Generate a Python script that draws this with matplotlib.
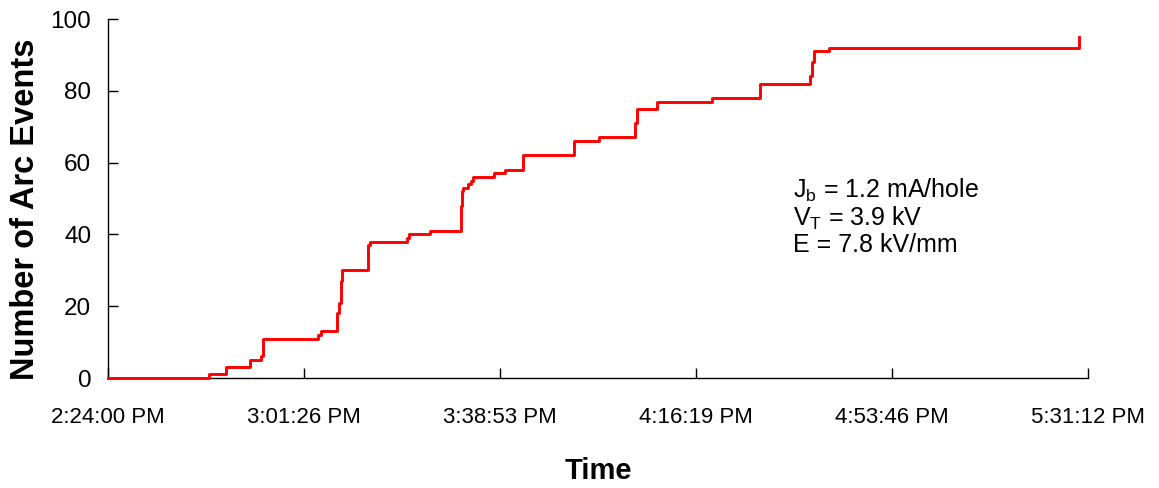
import pandas as pd
import matplotlib
matplotlib.use("Agg")
import matplotlib.pyplot as plt
import matplotlib.dates as mdates

plt.rcParams["font.family"] = ["Liberation Sans", "DejaVu Sans"]
plt.rcParams["mathtext.fontset"] = "custom"
plt.rcParams["mathtext.rm"] = "Liberation Sans"
plt.rcParams["mathtext.it"] = "Liberation Sans"

# arc event log (clock time, cumulative count)
event_times = ["2:24:00 PM", "2:43:17 PM", "2:46:32 PM", "2:51:07 PM", "2:53:14 PM",
               "2:53:31 PM", "3:04:07 PM", "3:04:41 PM", "3:07:45 PM", "3:08:13 PM",
               "3:08:25 PM", "3:08:42 PM", "3:13:37 PM", "3:14:03 PM", "3:21:10 PM",
               "3:21:33 PM", "3:25:31 PM", "3:31:22 PM", "3:31:34 PM", "3:31:52 PM",
               "3:32:43 PM", "3:33:17 PM", "3:33:40 PM", "3:37:47 PM", "3:39:50 PM",
               "3:43:20 PM", "3:53:01 PM", "3:57:47 PM", "4:04:40 PM", "4:04:59 PM",
               "4:08:49 PM", "4:19:19 PM", "4:28:33 PM", "4:38:06 PM", "4:38:25 PM",
               "4:38:55 PM", "4:41:47 PM", "5:29:29 PM", "5:29:29 PM"]
event_counts = [0, 1, 3, 5, 6,
                11, 12, 13, 18, 21,
                27, 30, 37, 38, 39,
                40, 41, 48, 52, 53,
                54, 55, 56, 57, 58,
                62, 66, 67, 71, 75,
                77, 78, 82, 84, 88,
                91, 92, 92, 95]

tick_labels = ["2:24:00 PM", "3:01:26 PM", "3:38:53 PM", "4:16:19 PM", "4:53:46 PM", "5:31:12 PM"]
y_ticks = [0, 20, 40, 60, 80, 100]

fmt = "%I:%M:%S %p"
t = pd.to_datetime(event_times, format=fmt)
ticks = pd.to_datetime(tick_labels, format=fmt)

fig = plt.figure(figsize=(11.59, 4.88), dpi=100)
ax = fig.add_axes([0.0932, 0.2254, 0.8455, 0.7356])

ax.plot(mdates.date2num(t), event_counts, color="#ff0000", lw=2.1, drawstyle="steps-post",
        clip_on=False, zorder=3)

ax.set_xlim(mdates.date2num(ticks[0]), mdates.date2num(ticks[-1]))
ax.set_ylim(0, 100)
ax.set_xticks(mdates.date2num(ticks))
ax.set_xticklabels(tick_labels)
ax.set_yticks(y_ticks)

for s in ["top", "right"]:
    ax.spines[s].set_visible(False)
for s in ["left", "bottom"]:
    ax.spines[s].set_linewidth(1.0)

ax.tick_params(axis="x", direction="in", length=7, width=1, labelsize=16, pad=21)
ax.tick_params(axis="y", direction="in", length=7, width=1, labelsize=17.5, pad=12)

ax.set_xlabel("Time", fontsize=21, fontweight="bold", labelpad=21)
ax.set_ylabel("Number of Arc Events", fontsize=23.5, fontweight="bold")
ax.yaxis.set_label_coords(-0.068, 0.47)

ax.text(0.699, 0.56,
        "J$_\\mathrm{b}$ = 1.2 mA/hole\nV$_\\mathrm{T}$ = 3.9 kV\nE = 7.8 kV/mm",
        transform=ax.transAxes, fontsize=18, va="top", ha="left", linespacing=1.05)

fig.savefig("out.png", dpi=100)
